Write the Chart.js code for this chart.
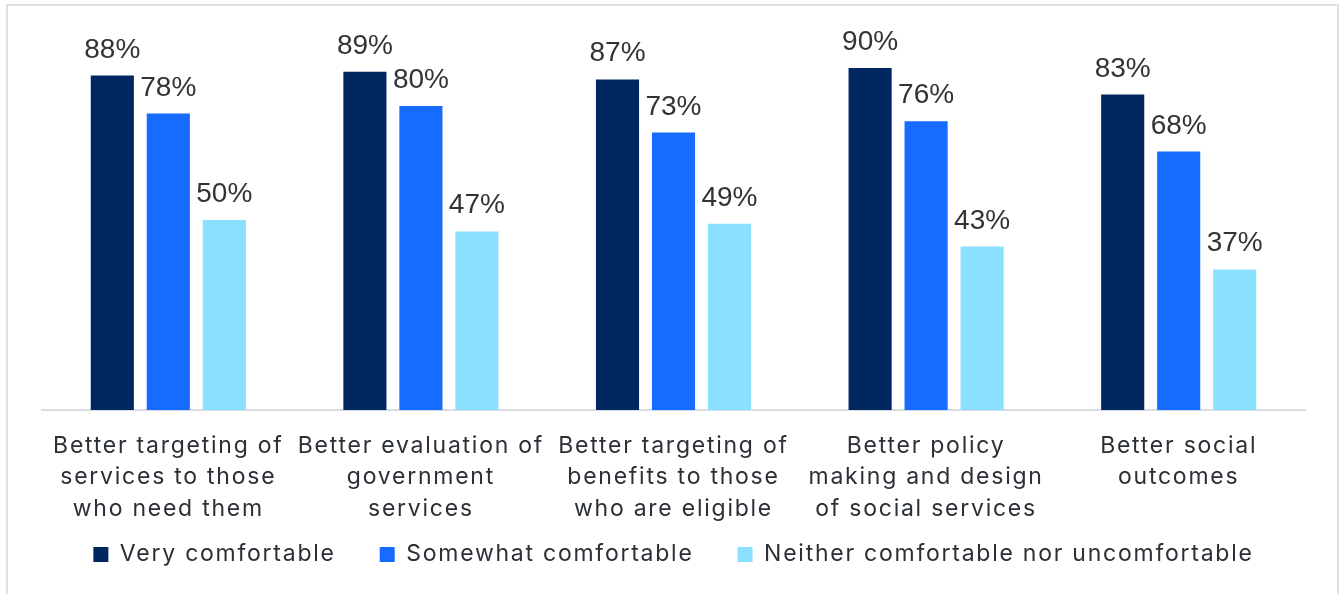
<!DOCTYPE html>
<html>
<head>
<meta charset="utf-8">
<script src="https://cdn.jsdelivr.net/npm/chart.js@4/dist/chart.umd.min.js"></script>
<style>
  html, body { margin: 0; padding: 0; background: #fff; }
  #frame { position: absolute; left: 6px; top: 4px; width: 1333px; height: 620px; border: 2px solid #dde1e6; box-sizing: border-box; }
  #wrap { position: absolute; left: 0; top: 0; width: 1343px; height: 594px; }
</style>
</head>
<body>
<div id="frame"></div>
<div id="wrap"><canvas id="c" width="1343" height="594"></canvas></div>
<script>
const categories = [
  ["Better targeting of", "services to those", "who need them"],
  ["Better evaluation of", "government", "services"],
  ["Better targeting of", "benefits to those", "who are eligible"],
  ["Better policy", "making and design", "of social services"],
  ["Better social", "outcomes"]
];
const seriesNames = ["Very comfortable", "Somewhat comfortable", "Neither comfortable nor uncomfortable"];
const veryComfortable = [88, 89, 87, 90, 83];
const somewhatComfortable = [78, 80, 73, 76, 68];
const neitherComfortable = [50, 47, 49, 43, 37];
const colors = ["#00275f", "#176cff", "#8ce0ff"];

// let the multi-line category labels overflow the axis box (no clipping)
if (Chart.Scale && Chart.Scale.prototype._computeLabelArea) {
  Chart.Scale.prototype._computeLabelArea = function () { return undefined; };
}

const spacingPlugin = {
  id: 'spacing',
  beforeUpdate(chart) { chart.ctx.letterSpacing = '1.75px'; },
  beforeLayout(chart) { chart.ctx.letterSpacing = '1.75px'; },
  beforeDraw(chart) { chart.ctx.letterSpacing = '1.75px'; }
};

const labelPlugin = {
  id: 'valueLabels',
  afterDatasetsDraw(chart) {
    const ctx = chart.ctx;
    ctx.save();
    ctx.letterSpacing = '0px';
    ctx.font = '28px "Liberation Sans", Arial, sans-serif';
    ctx.fillStyle = '#333333';
    ctx.textAlign = 'center';
    ctx.textBaseline = 'alphabetic';
    chart.data.datasets.forEach((ds, i) => {
      chart.getDatasetMeta(i).data.forEach((bar, j) => {
        ctx.fillText(ds.data[j] + '%', bar.x, bar.y - 18);
      });
    });
    ctx.restore();
  }
};

new Chart(document.getElementById('c'), {
  type: 'bar',
  data: {
    labels: categories,
    datasets: [
      { label: seriesNames[0], data: veryComfortable, backgroundColor: colors[0] },
      { label: seriesNames[1], data: somewhatComfortable, backgroundColor: colors[1] },
      { label: seriesNames[2], data: neitherComfortable, backgroundColor: colors[2] }
    ]
  },
  options: {
    responsive: false,
    animation: false,
    layout: { padding: { left: 42, right: 38, top: 30, bottom: 18 } },
    datasets: { bar: { barPercentage: 0.77, categoryPercentage: 0.665 } },
    scales: {
      y: { display: false, min: 0, max: 100 },
      x: {
        grid: { display: false, drawTicks: false },
        border: { display: true, color: '#d9dde3', width: 2 },
        ticks: {
          color: '#2b3036',
          font: { family: 'Inter, "Noto Sans", sans-serif', size: 23, lineHeight: 1.35 },
          padding: 21,
          maxRotation: 0,
          autoSkip: false
        },
        afterFit(scale) { scale.height = 89; }
      }
    },
    plugins: {
      legend: {
        position: 'bottom',
        labels: {
          color: '#2b3036',
          font: { family: 'Inter, "Noto Sans", sans-serif', size: 23 },
          boxWidth: 15,
          boxHeight: 15,
          padding: 44
        }
      },
      tooltip: { enabled: false }
    }
  },
  plugins: [spacingPlugin, labelPlugin]
});
</script>
</body>
</html>
